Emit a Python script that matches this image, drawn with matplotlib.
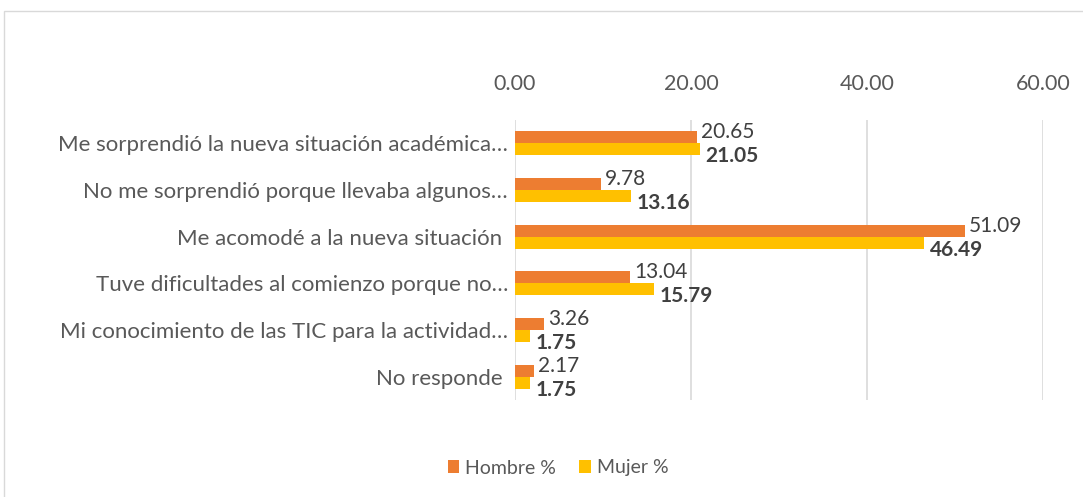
import matplotlib.pyplot as plt
import numpy as np
from matplotlib.patches import Rectangle

plt.rcParams['font.family'] = ['Lato', 'DejaVu Sans']

categorias = ['Me sorprendió la nueva situación académica…',
              'No me sorprendió porque llevaba algunos…',
              'Me acomodé a la nueva situación ',
              'Tuve dificultades al comienzo porque no…',
              'Mi conocimiento de las TIC para la actividad…',
              'No responde ']
hombre = [20.65, 9.78, 51.09, 13.04, 3.26, 2.17]
mujer = [21.05, 13.16, 46.49, 15.79, 1.75, 1.75]

NARANJA = '#ED7D31'
AMARILLO = '#FFC000'
GRIS = '#595959'

fig = plt.figure(figsize=(10.83, 4.97), dpi=100)
ax = fig.add_axes([0.4755, 0.1952, 0.4875, 0.5634])

y = np.arange(len(categorias))
h = 0.26
ax.barh(y - h / 2, hombre, height=h, color=NARANJA, label='Hombre %', zorder=3)
ax.barh(y + h / 2, mujer, height=h, color=AMARILLO, label='Mujer %', zorder=3)

# etiquetas: hombre arriba, mujer (negrita) abajo
for i in range(len(categorias)):
    ax.annotate(f'{hombre[i]:.2f}', (hombre[i], y[i] - h / 2), xytext=(3, 3.5),
                textcoords='offset points', ha='left', va='center',
                fontsize=15, color='#404040')
    ax.annotate(f'{mujer[i]:.2f}', (mujer[i], y[i] + h / 2), xytext=(4, -5),
                textcoords='offset points', ha='left', va='center',
                fontsize=15, color='#404040', fontweight='bold')

ax.set_xlim(0, 60)
ax.set_ylim(len(categorias) - 0.5, -0.5)
ax.set_xticks([0, 20, 40, 60])
ax.set_xticklabels(['0.00', '20.00', '40.00', '60.00'])
ax.xaxis.tick_top()
ax.tick_params(axis='x', length=0, pad=19, labelsize=15.5, labelcolor=GRIS)
ax.set_yticks(y)
ax.set_yticklabels(categorias)
ax.tick_params(axis='y', length=0, pad=5, labelsize=16, labelcolor=GRIS)
ax.grid(axis='x', color='#D9D9D9', linewidth=1.2, zorder=0)
for s in ax.spines.values():
    s.set_visible(False)

ax.legend(loc='center', bbox_to_anchor=(558 / 1083, 1 - 468 / 497),
          bbox_transform=fig.transFigure, ncol=2, frameon=False,
          fontsize=14, labelcolor=GRIS, handlelength=0.6, handleheight=0.6,
          columnspacing=1.2, handletextpad=0.3)

fig.patches.append(Rectangle((4 / 1083, -0.01), 1.02, 1 - 11 / 497 + 0.01,
                             transform=fig.transFigure, fill=False,
                             edgecolor='#D9D9D9', linewidth=1))

fig.savefig('out.png', dpi=100)
